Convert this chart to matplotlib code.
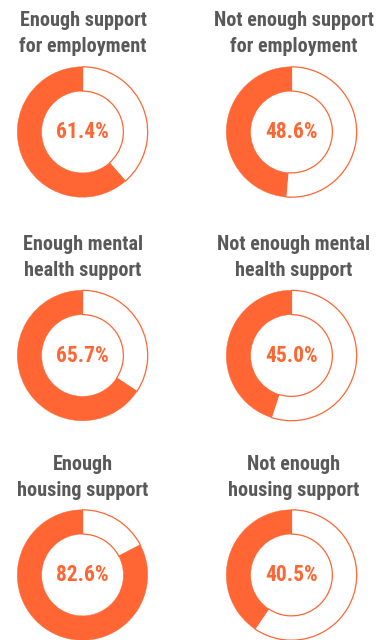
import matplotlib
matplotlib.use("Agg")
import matplotlib.pyplot as plt

# Survey results: share of respondents per support area
titles = [
    "Enough support\nfor employment",
    "Not enough support\nfor employment",
    "Enough mental\nhealth support",
    "Not enough mental\nhealth support",
    "Enough\nhousing support",
    "Not enough\nhousing support",
]
values = [61.4, 48.6, 65.7, 45.0, 82.6, 40.5]

ORANGE = "#FF6633"
GREY = "#595959"
FONT = ["Roboto Condensed", "DejaVu Sans"]

W, H = 379, 640
fig = plt.figure(figsize=(W / 100, H / 100), dpi=100)
fig.patch.set_facecolor("white")

# layout in pixels
col_x = [82.5, 291.5]
title_x = [83, 294]
row_y = [132, 355.5, 575]
title_y = [20, 245, 465]
line_gap = 26
r_out = 66.5
r_in = 41.7

for i, (title, v) in enumerate(zip(titles, values)):
    r, c = divmod(i, 2)
    cx, cy = col_x[c], row_y[r]
    ax = fig.add_axes([(cx - r_out) / W, 1 - (cy + r_out) / H,
                       2 * r_out / W, 2 * r_out / H])
    wedges, _ = ax.pie([v, 100 - v], startangle=90, counterclock=True,
                       radius=1.0,
                       wedgeprops=dict(width=1 - r_in / r_out))
    wedges[0].set_facecolor(ORANGE)
    wedges[0].set_edgecolor(ORANGE)
    wedges[0].set_linewidth(0.3)
    wedges[1].set_facecolor("white")
    wedges[1].set_edgecolor(ORANGE)
    wedges[1].set_linewidth(0.9)
    ax.set_xlim(-1.02, 1.02)
    ax.set_ylim(-1.02, 1.02)
    ax.set_aspect("equal")
    ax.axis("off")
    ax.text(0, 0, f"{v:.1f}%", ha="center", va="center", color=ORANGE,
            fontsize=15.5, fontweight="bold", family=FONT)

    lines = title.split("\n")
    for k, line in enumerate(lines):
        fig.text(title_x[c] / W, 1 - (title_y[r] + k * line_gap) / H, line,
                 ha="center", va="center", color=GREY, fontsize=14.5,
                 fontweight="bold", family=FONT)

fig.savefig("out.png", dpi=100, facecolor="white")
